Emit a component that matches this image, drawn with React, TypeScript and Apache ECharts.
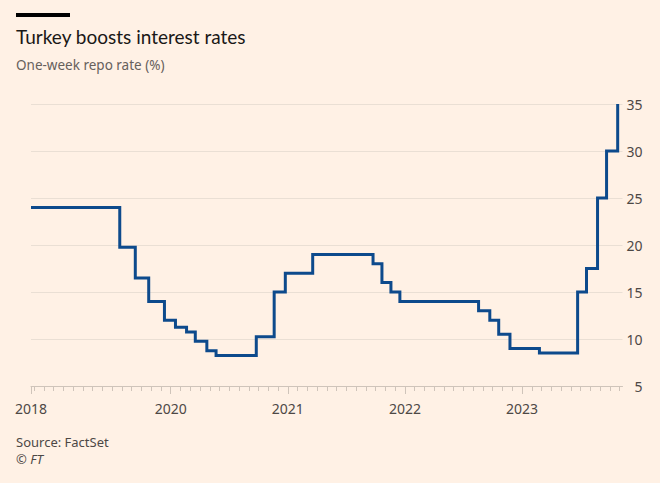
import React, { useEffect, useRef } from "react";
import * as echarts from "echarts";

// Policy rate decisions: date from which each rate applies
const rateDates = [
  "2018-10-22", "2019-07-25", "2019-09-12", "2019-10-24", "2019-12-12",
  "2020-01-16", "2020-02-19", "2020-03-17", "2020-04-22", "2020-05-21",
  "2020-09-24", "2020-11-19", "2020-12-24", "2021-03-18", "2021-09-23",
  "2021-10-21", "2021-11-18", "2021-12-16", "2022-08-18", "2022-09-22",
  "2022-10-20", "2022-11-24", "2023-02-23", "2023-06-22", "2023-07-20",
  "2023-08-24", "2023-09-21", "2023-10-26",
];
const rateValues = [
  24, 19.75, 16.5, 14, 12,
  11.25, 10.75, 9.75, 8.75, 8.25,
  10.25, 15, 17, 19, 18,
  16, 15, 14, 13, 12,
  10.5, 9, 8.5, 15, 17.5,
  25, 30, 35,
];

const axisStart = "2018-10-22";
const axisEnd = "2023-11-10";
const yearLabels = ["2018", "2020", "2021", "2022", "2023"];
const yearLabelDates = ["2018-10-22", "2020-01-01", "2021-01-01", "2022-01-01", "2023-01-01"];
const yTicks = [5, 10, 15, 20, 25, 30, 35];

function monthIndex(s: string): number {
  const [y, m, d] = s.split("-").map(Number);
  const dim = new Date(Date.UTC(y, m, 0)).getUTCDate();
  return (y - 2018) * 12 + (m - 1) + (d - 1) / dim;
}

export default function App() {
  const ref = useRef<HTMLDivElement>(null);
  useEffect(() => {
    document.body.style.margin = "0";
    document.body.style.background = "#fff1e5";
    const chart = echarts.init(ref.current!, null, { renderer: "svg" });
    const xMin = monthIndex(axisStart);
    const xMax = monthIndex(axisEnd);
    const monthTicks: number[] = [xMin];
    for (let v = Math.ceil(xMin); v <= Math.floor(xMax); v++) monthTicks.push(v);
    const labelVals = yearLabelDates.map(monthIndex);
    const font = "'Noto Sans', sans-serif";
    const titleFont = "Lato, 'Noto Sans', sans-serif";
    chart.setOption({
      animation: false,
      backgroundColor: "#fff1e5",
      textStyle: { fontFamily: font },
      grid: { left: 31, right: 37.5, top: 104, bottom: 97, containLabel: false },
      xAxis: [
        {
          type: "value",
          min: xMin,
          max: xMax,
          position: "bottom",
          axisLine: { show: true, lineStyle: { color: "#cfc4ba", width: 1 } },
          axisTick: { show: true, customValues: monthTicks, length: 5, lineStyle: { color: "#cfc4ba" } },
          axisLabel: { show: false },
          splitLine: { show: false },
        },
        {
          type: "value",
          min: xMin,
          max: xMax,
          position: "bottom",
          offset: 0,
          axisLine: { show: false },
          axisTick: { show: true, customValues: labelVals, length: 8, lineStyle: { color: "#cfc4ba" } },
          axisLabel: {
            show: true,
            customValues: labelVals,
            margin: 15,
            color: "#4d4845",
            fontSize: 14,
            fontFamily: font,
            formatter: (v: number) => {
              const i = labelVals.findIndex((x) => Math.abs(x - v) < 1e-6);
              return i >= 0 ? yearLabels[i] : "";
            },
          },
          splitLine: { show: false },
        },
      ],
      yAxis: {
        type: "value",
        position: "right",
        min: yTicks[0],
        max: yTicks[yTicks.length - 1],
        interval: 5,
        axisLine: { show: false },
        axisTick: { show: false },
        axisLabel: {
          color: "#4d4845",
          fontSize: 14,
          fontFamily: font,
          align: "right",
          margin: 20,
        },
        splitLine: { show: true, lineStyle: { color: "#eadfd4", width: 1 } },
      },
      series: [
        {
          type: "line",
          step: "end",
          xAxisIndex: 0,
          showSymbol: false,
          symbol: "none",
          data: rateDates.map((d, i) => [monthIndex(d), rateValues[i]]),
          lineStyle: { color: "#0d4a8c", width: 3, join: "miter", cap: "butt" },
        },
      ],
      graphic: [
        { type: "rect", left: 16, top: 13, shape: { width: 54, height: 4 }, style: { fill: "#000000" } },
        {
          type: "text",
          x: 16,
          y: 36.5,
          style: { text: "Turkey boosts interest rates", font: `19px ${titleFont}`, fill: "#1a1817", verticalAlign: "middle" },
        },
        {
          type: "text",
          x: 16,
          y: 64.5,
          style: { text: "One-week repo rate (%)", font: `13.5px ${font}`, fill: "#66605c", verticalAlign: "middle" },
        },
        {
          type: "text",
          x: 16,
          y: 441.5,
          style: { text: "Source: FactSet", font: `13px ${font}`, fill: "#4d4845", verticalAlign: "middle" },
        },
        {
          type: "text",
          x: 16,
          y: 459,
          style: { text: "© FT", font: `italic 13px ${font}`, fill: "#4d4845", verticalAlign: "middle" },
        },
      ],
    });
    return () => chart.dispose();
  }, []);
  return <div ref={ref} style={{ width: 660, height: 483, background: "#fff1e5" }} />;
}
